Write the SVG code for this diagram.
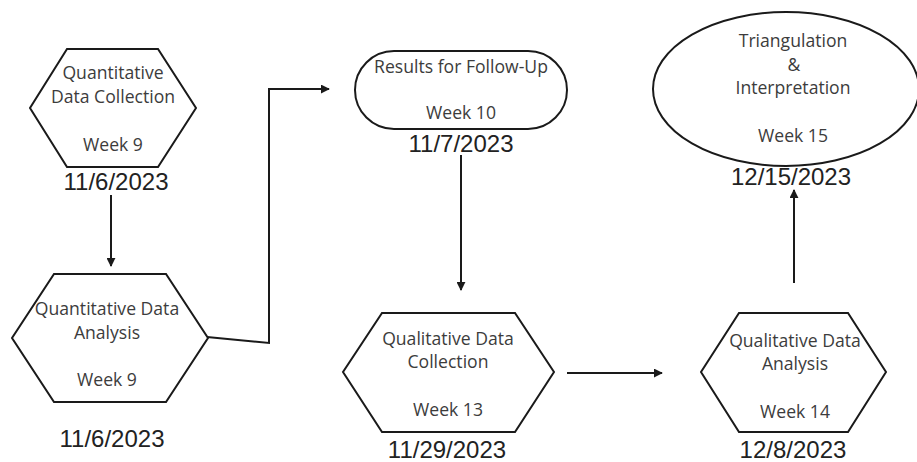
<svg xmlns="http://www.w3.org/2000/svg" width="917" height="462" viewBox="0 0 917 462">
<defs>
<marker id="ah" viewBox="0 0 10 10" refX="9" refY="5" markerWidth="9" markerHeight="9" markerUnits="userSpaceOnUse" orient="auto">
<path d="M0,0 L10,5 L0,10 z" fill="#1a1a1a"/>
</marker>
<style>
.shape{fill:#fff;stroke:#1a1a1a;stroke-width:2}
.t{font-family:"Open Sans","Liberation Sans",sans-serif;font-size:17.6px;fill:#3c3c3c;text-anchor:middle}
.d{font-family:"Liberation Sans",Arial,sans-serif;font-size:24px;fill:#222;text-anchor:middle}
.c{fill:none;stroke:#1a1a1a;stroke-width:2}
</style>
</defs>
<rect width="917" height="462" fill="#fff"/>
<g id="connectors">
<path class="c" d="M111,195 L111,266" marker-end="url(#ah)"/>
<path class="c" d="M207,337 L269,343 L269,89 L329,89" marker-end="url(#ah)"/>
<path class="c" d="M461,155 L461,290" marker-end="url(#ah)"/>
<path class="c" d="M567,373 L662,373" marker-end="url(#ah)"/>
<path class="c" d="M794,283 L794,190" marker-end="url(#ah)"/>
</g>
<g id="n1">
<polygon class="shape" points="67,49 158,49 196,108 158,167 67,167 30,108"/>
<text class="t" x="113" y="79">Quantitative</text>
<text class="t" x="113" y="103">Data Collection</text>
<text class="t" x="113" y="151">Week 9</text>
<text class="d" x="116" y="190">11/6/2023</text>
</g>
<g id="n2">
<polygon class="shape" points="54,274 166,274 208,338 166,402 54,402 12,338"/>
<text class="t" x="107" y="315">Quantitative Data</text>
<text class="t" x="107" y="339">Analysis</text>
<text class="t" x="107" y="386">Week 9</text>
<text class="d" x="112" y="447">11/6/2023</text>
</g>
<g id="n3">
<rect class="shape" x="355" y="51" width="212" height="78" rx="39" ry="39"/>
<text class="t" x="461" y="73">Results for Follow-Up</text>
<text class="t" x="461" y="119">Week 10</text>
<text class="d" x="461" y="152">11/7/2023</text>
</g>
<g id="n4">
<polygon class="shape" points="382,313 515,313 554,372 515,432 382,432 343,372"/>
<text class="t" x="448" y="345">Qualitative Data</text>
<text class="t" x="448" y="368">Collection</text>
<text class="t" x="448" y="416">Week 13</text>
<text class="d" x="447" y="458">11/29/2023</text>
</g>
<g id="n5">
<polygon class="shape" points="739,313 848,313 886,372 848,432 739,432 701,372"/>
<text class="t" x="795" y="347">Qualitative Data</text>
<text class="t" x="795" y="370">Analysis</text>
<text class="t" x="795" y="418">Week 14</text>
<text class="d" x="793" y="458">12/8/2023</text>
</g>
<g id="n6">
<ellipse class="shape" cx="786" cy="89" rx="133" ry="77"/>
<text class="t" x="793" y="47">Triangulation</text>
<text class="t" x="794" y="71">&amp;</text>
<text class="t" x="793" y="94">Interpretation</text>
<text class="t" x="793" y="142">Week 15</text>
<text class="d" x="791" y="185">12/15/2023</text>
</g>
</svg>
